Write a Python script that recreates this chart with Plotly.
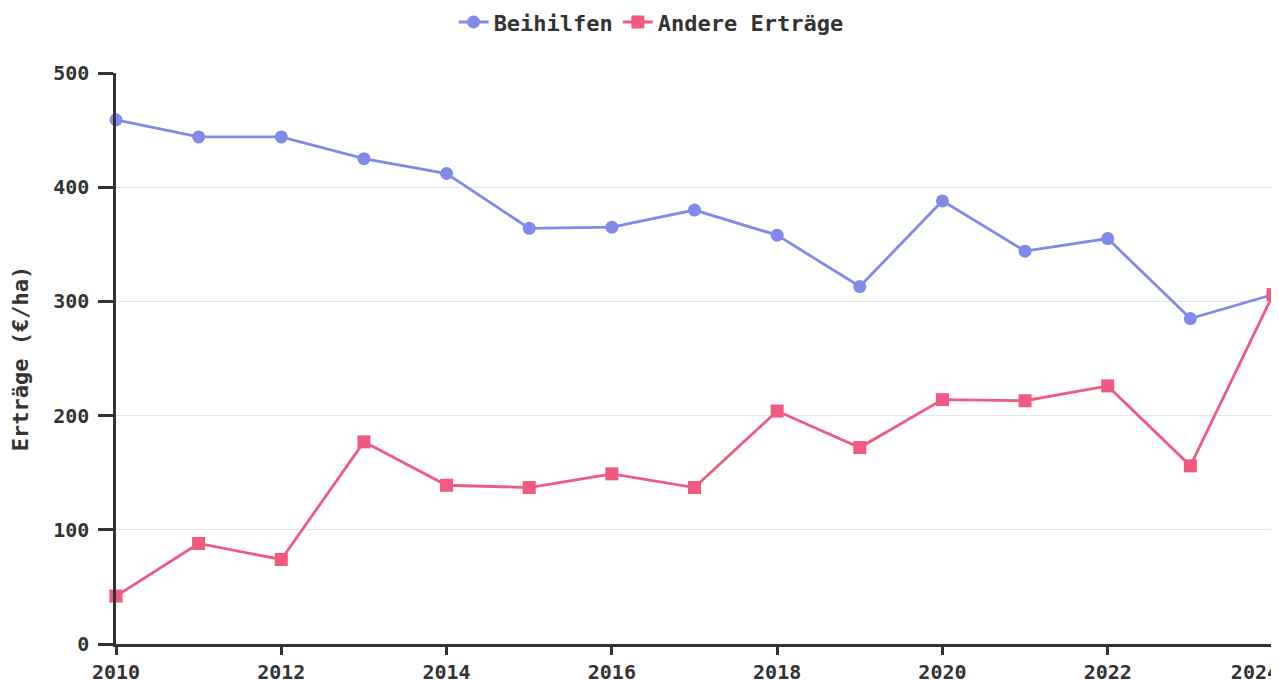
import plotly.graph_objects as go

years = list(range(2010, 2025))
beihilfen = [459, 444, 444, 425, 412, 364, 365, 380, 358, 313, 388, 344, 355, 285, 306]
andere = [42, 88, 74, 177, 139, 137, 149, 137, 204, 172, 214, 213, 226, 156, 306]

x_tickvals = [2010, 2012, 2014, 2016, 2018, 2020, 2022, 2024]
# last label is nudged left like in the original (nbsp padding)
x_ticktext = ["2010", "2012", "2014", "2016", "2018", "2020", "2022", "2024\u00a0\u00a0\u00a0"]

font_fam = "DejaVu Sans Mono"
txt = "#333333"

fig = go.Figure()
fig.add_trace(go.Scatter(
    x=years, y=beihilfen, name="Beihilfen", mode="lines+markers",
    line=dict(color="#8189eb", width=2.8),
    marker=dict(symbol="circle", size=13, color="#8189eb"),
    cliponaxis=False
))
fig.add_trace(go.Scatter(
    x=years, y=andere, name="Andere Erträge", mode="lines+markers",
    line=dict(color="#f05a80", width=2.8),
    marker=dict(symbol="square", size=13, color="#f05a80"),
    cliponaxis=False
))

# page body has an 8px margin, so the figure is a bit smaller than the window
fig.update_layout(
    width=1271, height=672,
    margin=dict(l=108, r=6, t=65, b=36, autoexpand=False),
    plot_bgcolor="white", paper_bgcolor="white",
    font=dict(family=font_fam, size=20, color=txt, weight="bold"),
    showlegend=True,
    legend=dict(orientation="h", x=0.506, xanchor="center", xref="container",
                y=1.089, yanchor="middle", yref="paper",
                font=dict(size=22, weight="bold"),
                itemwidth=30, tracegroupgap=0),
)

fig.update_xaxes(
    range=[2010, 2024], tickmode="array", tickvals=x_tickvals, ticktext=x_ticktext,
    showgrid=False, zeroline=False,
    showline=True, linecolor="#333333", linewidth=2.5,
    ticks="outside", ticklen=8, tickwidth=2.5, tickcolor="#333333",
    tickfont=dict(size=20, weight="bold"), automargin=False,
    ticklabeloverflow="allow",
)
fig.update_yaxes(
    range=[0, 500], dtick=100, showgrid=True, gridcolor="#e6e6e6", gridwidth=1,
    zeroline=False, showline=True, linecolor="#333333", linewidth=2.5,
    ticks="outside", ticklen=15, tickwidth=2.5, tickcolor="#333333",
    tickfont=dict(size=20, weight="bold"), ticklabelstandoff=5,
    automargin=False,
    title=dict(text="Erträge (€/ha)", font=dict(size=22, weight="bold"), standoff=36),
)

fig.write_html("out.html")
